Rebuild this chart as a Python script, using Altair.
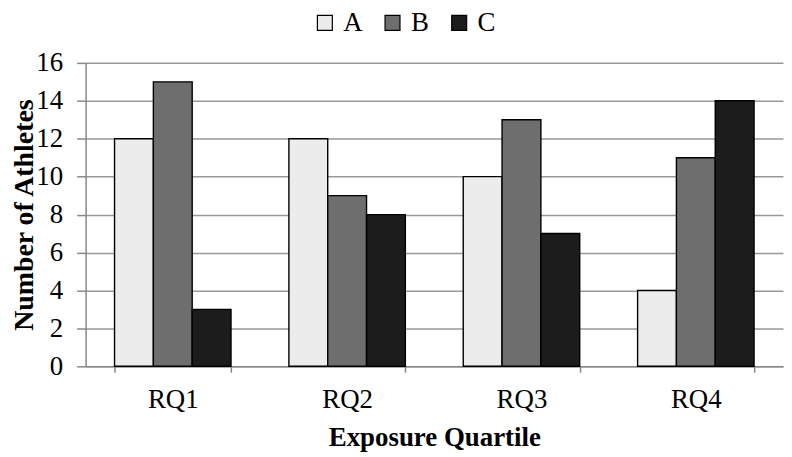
import altair as alt
import pandas as pd

categories = ["RQ1", "RQ2", "RQ3", "RQ4"]
series = ["A", "B", "C"]
values_A = [12, 12, 10, 4]
values_B = [15, 9, 13, 11]
values_C = [3, 8, 7, 14]

rows = []
for i, c in enumerate(categories):
    for s, vals in zip(series, [values_A, values_B, values_C]):
        rows.append({"quartile": c, "group": s, "count": vals[i]})
df = pd.DataFrame(rows)

font = "Liberation Serif"
W, H = 701, 305

chart = alt.Chart(df).mark_bar(stroke="black", strokeWidth=1.4).encode(
    x=alt.X("quartile:N", sort=categories,
            scale=alt.Scale(paddingInner=0.332, paddingOuter=0.166),
            axis=alt.Axis(title="Exposure Quartile", labelAngle=0, tickBand="extent",
                          domainColor="#888888", domainWidth=1.5, tickColor="#888888",
                          tickWidth=1.5, tickSize=6,
                          labelBaseline="alphabetic", labelPadding=35, grid=False,
                          titleX=W / 2, titleY=80, titleBaseline="alphabetic",
                          titleAlign="center",
                          labelFont=font, titleFont=font, labelFontSize=27, titleFontSize=27,
                          labelColor="black", titleColor="black", titleFontWeight="bold")),
    xOffset=alt.XOffset("group:N", sort=series),
    y=alt.Y("count:Q", scale=alt.Scale(domain=[0, 16], nice=False),
            axis=alt.Axis(title="Number of Athletes", values=list(range(0, 17, 2)),
                          labelOverlap=False, domainColor="#888888", domainWidth=1.5,
                          tickColor="#888888", tickWidth=1.5,
                          grid=True, gridColor="#999999", gridWidth=1.5, tickSize=9,
                          labelPadding=14,
                          titleX=-53, titleY=H / 2, titleAngle=-90,
                          titleBaseline="alphabetic", titleAlign="center",
                          labelFont=font, titleFont=font, labelFontSize=27, titleFontSize=28,
                          labelColor="black", titleColor="black", titleFontWeight="bold")),
    color=alt.Color("group:N", sort=series,
                    scale=alt.Scale(domain=series, range=["#ececec", "#6e6e6e", "#1c1c1c"]),
                    legend=alt.Legend(title=None, orient="none", direction="horizontal",
                                      legendX=227, legendY=-54,
                                      symbolType="square", symbolStrokeColor="black",
                                      symbolStrokeWidth=1.2, symbolSize=225,
                                      labelFontSize=27, labelFont=font, labelColor="black",
                                      columnPadding=16, labelOffset=5)),
).properties(
    width=W, height=H,
    autosize=alt.AutoSizeParams(type="none"),
    padding={"left": 78, "top": 54, "right": 1, "bottom": 88},
).configure_view(
    stroke=None
)

chart.save("out.html", embed_options={"renderer": "svg", "actions": False})
